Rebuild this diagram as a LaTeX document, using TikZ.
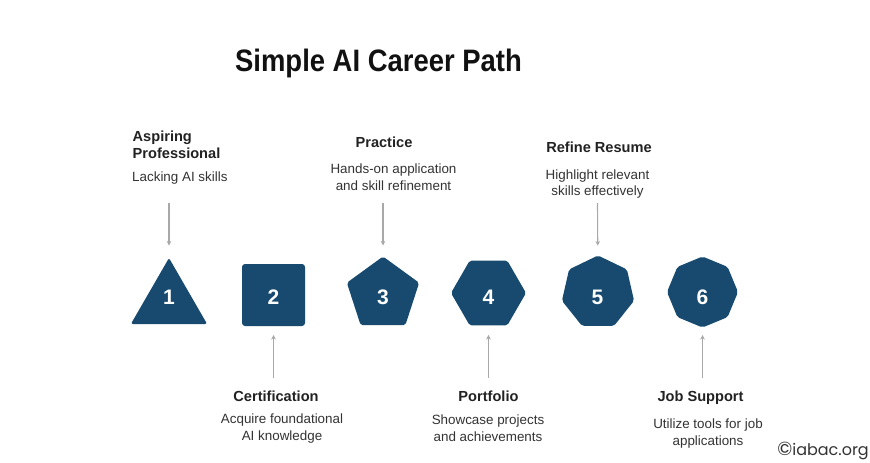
\documentclass[tikz,border=0pt]{standalone}
\usepackage{fontspec}
\setmainfont{Liberation Sans}
\newfontfamily\titlefont{Liberation Sans}[FakeStretch=0.885]
\newfontfamily\wmfont{Poppins}
\usetikzlibrary{shapes.geometric,arrows.meta}
\definecolor{shapeblue}{HTML}{174A6E}
\definecolor{arrowgray}{HTML}{A8A8A8}
\definecolor{titleblack}{HTML}{111111}
\definecolor{txtdark}{HTML}{222222}
\definecolor{txtmid}{HTML}{333333}
\tikzset{
  shp/.style={fill=shapeblue, inner sep=0pt, outer sep=0pt, rounded corners=2pt},
  poly/.style={shp, regular polygon, regular polygon sides=#1},
  num/.style={text=white, font=\fontsize{21}{21}\selectfont\bfseries, anchor=base, inner sep=0pt},
  head/.style={font=\fontsize{14.6}{17}\selectfont\bfseries, text=txtdark, inner sep=0pt, anchor=base},
  desc/.style={font=\fontsize{13.4}{16.5}\selectfont, text=txtmid, inner sep=0pt, align=center, anchor=base},
  arr/.style={draw=arrowgray, line width=1.1pt, -{Stealth[length=4.5pt,width=4.5pt]}}
}
\begin{document}
\begin{tikzpicture}[x=1pt, y=-1pt]
\fill[white] (0,0) rectangle (870,463);
\useasboundingbox (0,0) rectangle (870,463);

% title
\node[anchor=base, inner sep=0pt, text=titleblack, font=\titlefont\fontsize{31}{36}\selectfont\bfseries] (title) at (378.5,71) {Simple AI Career Path};

% shapes
\node[poly=3, minimum size=88pt] (s1) at (169,302) {};
\node[shp, rectangle, minimum width=63pt, minimum height=62pt, rounded corners=3pt] (s2) at (273.5,295) {};
\node[poly=5, minimum size=76pt] (s3) at (383,294.5) {};
\node[poly=6, minimum size=75pt] (s4) at (488.5,293) {};
\node[poly=7, minimum size=74pt] (s5) at (598,292.5) {};
\node[poly=8, shape border rotate=22.5, minimum size=71pt] (s6) at (702.5,292) {};

% numbers
\node[num] (n1) at (169,304.5) {1};
\node[num] (n2) at (273.5,304.5) {2};
\node[num] (n3) at (383,304.5) {3};
\node[num] (n4) at (488.5,304.5) {4};
\node[num] (n5) at (597.5,304.5) {5};
\node[num] (n6) at (702.5,304.5) {6};

% top labels (base = baseline of the last line)
\node[head, anchor=base west, align=left] (h1) at (132.5,158) {Aspiring\\Professional};
\node[desc, anchor=base west, align=left] (d1) at (132,181) {Lacking AI skills};
\node[head] (h3) at (384,147) {Practice};
\node[desc] (d3) at (393.5,190) {Hands-on application\\and skill refinement};
\node[head] (h5) at (599,152) {Refine Resume};
\node[desc] (d5) at (597.5,195.5) {Highlight relevant\\skills effectively};

% bottom labels
\node[head] (h2) at (276,401) {Certification};
\node[desc] (d2) at (282,440) {Acquire foundational\\AI knowledge};
\node[head] (h4) at (488.5,401) {Portfolio};
\node[desc] (d4) at (488,441) {Showcase projects\\and achievements};
\node[head] (h6) at (700.5,401.5) {Job Support};
\node[desc] (d6) at (708,445) {Utilize tools for job\\applications};

% arrows
\coordinate (c1) at (169,203);
\coordinate (c3) at (383,203);
\coordinate (c5) at (597.5,203);
\coordinate (c2) at (273.5,378);
\coordinate (c4) at (488.5,378);
\coordinate (c6) at (702.5,378);
\draw[arr, shorten >=12.5pt] (c1) -- (s1);
\draw[arr, shorten >=11pt] (c3) -- (s3);
\draw[arr, shorten >=10pt] (c5) -- (s5);
\draw[arr, shorten >=9pt] (c2) -- (s2);
\draw[arr, shorten >=9.5pt] (c4) -- (s4);
\draw[arr, shorten >=7.5pt] (c6) -- (s6);

% watermark
\node[anchor=base east, inner sep=0pt, text=txtmid, font=\wmfont\fontsize{16}{16}\selectfont] (wm) at (869,455) {{\fontsize{19}{19}\selectfont\char"00A9}iabac.org};
\end{tikzpicture}
\end{document}
